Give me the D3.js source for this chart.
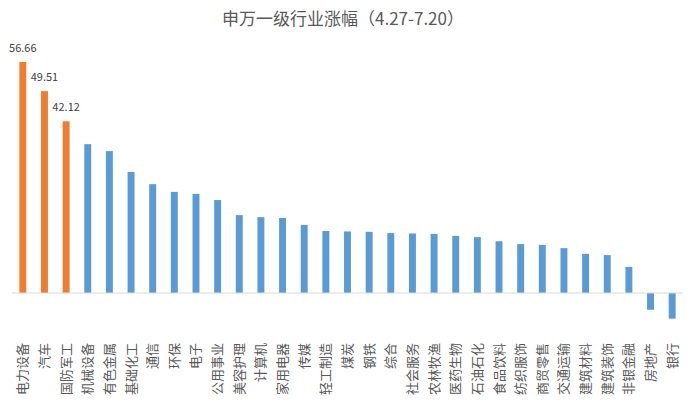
<!DOCTYPE html>
<html><head><meta charset="utf-8">
<script src="https://cdn.jsdelivr.net/npm/d3@7"></script>
<style>html,body{margin:0;padding:0;background:#fff;}svg{display:block;}</style>
</head><body>
<svg id="c" width="696" height="402"></svg>
<script>
const categories = ["电力设备","汽车","国防军工","机械设备","有色金属","基础化工","通信","环保","电子","公用事业","美容护理","计算机","家用电器","传媒","轻工制造","煤炭","钢铁","综合","社会服务","农林牧渔","医药生物","石油石化","食品饮料","纺织服饰","商贸零售","交通运输","建筑材料","建筑装饰","非银金融","房地产","银行"];
const values = [56.66,49.51,42.12,36.5,34.8,29.7,26.7,24.8,24.3,22.8,19.1,18.6,18.4,16.7,15.2,15.1,15.0,14.7,14.6,14.5,14.0,13.7,12.7,12.0,11.8,11.0,9.6,9.3,6.4,-4.1,-6.3];
const highlighted = ["电力设备","汽车","国防军工"];
const title = "申万一级行业涨幅（4.27-7.20）";

const svg = d3.select("#c");
const font = "'Noto Sans CJK SC','Microsoft YaHei',sans-serif";
const x = d3.scaleBand().domain(categories).range([12, 683]).paddingInner(0.68).paddingOuter(0.34);
const y = d3.scaleLinear().domain([0, 60]).range([293, 293 - 60 * 4.077]);

svg.append("text").attr("x", 343).attr("y", 25).attr("text-anchor", "middle")
  .attr("font-family", font).attr("font-size", 17).attr("fill", "#595959").text(title);

const data = categories.map((c, i) => ({c, v: values[i]}));
svg.selectAll("rect.bar").data(data).join("rect").attr("class", "bar")
  .attr("x", d => x(d.c)).attr("width", x.bandwidth())
  .attr("y", d => y(Math.max(0, d.v))).attr("height", d => Math.abs(y(d.v) - y(0)))
  .attr("fill", d => highlighted.includes(d.c) ? "#ED7D31" : "#5B9BD5");

svg.append("line").attr("x1", 12).attr("x2", 683).attr("y1", y(0)).attr("y2", y(0))
  .attr("stroke", "#D9D9D9").attr("stroke-width", 1);

svg.selectAll("text.val").data(data.filter(d => highlighted.includes(d.c))).join("text").attr("class", "val")
  .attr("x", d => x(d.c) + x.bandwidth() / 2).attr("y", d => y(d.v) - 10)
  .attr("text-anchor", "middle").attr("font-family", font).attr("font-size", 11).attr("fill", "#404040")
  .text(d => d.v.toFixed(2));

svg.selectAll("text.cat").data(categories).join("text").attr("class", "cat")
  .attr("transform", d => `translate(${x(d) + x.bandwidth() / 2 + 4.5},343) rotate(-90)`)
  .attr("text-anchor", "end").attr("font-family", font).attr("font-size", 13).attr("fill", "#595959")
  .text(d => d);
</script>
</body></html>
